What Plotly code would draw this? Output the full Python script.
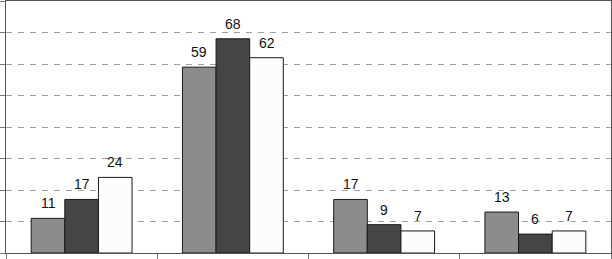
import plotly.graph_objects as go

categories = ["A", "B", "C", "D"]
series1 = [11, 59, 17, 13]
series2 = [17, 68, 9, 6]
series3 = [24, 62, 7, 7]
colors = ["#8c8c8c", "#454545", "#fcfcfc"]

BARGAP = 0.333
fig = go.Figure()
all_series = [series1, series2, series3]
for vals, col, name in zip(all_series, colors, ["S1", "S2", "S3"]):
    fig.add_trace(go.Bar(
        x=categories, y=vals, name=name,
        marker=dict(color=col, line=dict(color="#1a1a1a", width=1)),
        hoverinfo="skip",
    ))

w = (1 - BARGAP) / len(all_series)
for j, vals in enumerate(all_series):
    for i, v in enumerate(vals):
        fig.add_annotation(
            x=i + (j - (len(all_series) - 1) / 2) * w, y=v, xref="x", yref="y",
            text=str(v), showarrow=False, yanchor="bottom", yshift=5,
            font=dict(family="Liberation Sans, Arial", size=14, color="#111"),
        )

fig.update_layout(
    width=612, height=259,
    margin=dict(l=6, r=1, t=1, b=6, autoexpand=False),
    barmode="group", bargap=BARGAP, bargroupgap=0,
    plot_bgcolor="white", paper_bgcolor="white",
    showlegend=False,
    font=dict(family="Liberation Sans, Arial"),
)
fig.update_xaxes(
    showticklabels=False, tickson="boundaries", ticks="outside", ticklen=6,
    tickcolor="#777", showline=True, linecolor="#555", linewidth=1, mirror=True,
    showgrid=False, automargin=False,
)
fig.update_yaxes(
    range=[0, 80], dtick=10, showticklabels=False, ticks="outside", ticklen=6,
    tickcolor="#777", showline=True, linecolor="#555", linewidth=1, mirror=True,
    showgrid=True, gridcolor="#a0a0a0", griddash="6px,6px", gridwidth=1, zeroline=False,
    automargin=False,
)
fig.write_html("out.html", config={"displayModeBar": False},
               post_script="document.body.style.margin='0';")
